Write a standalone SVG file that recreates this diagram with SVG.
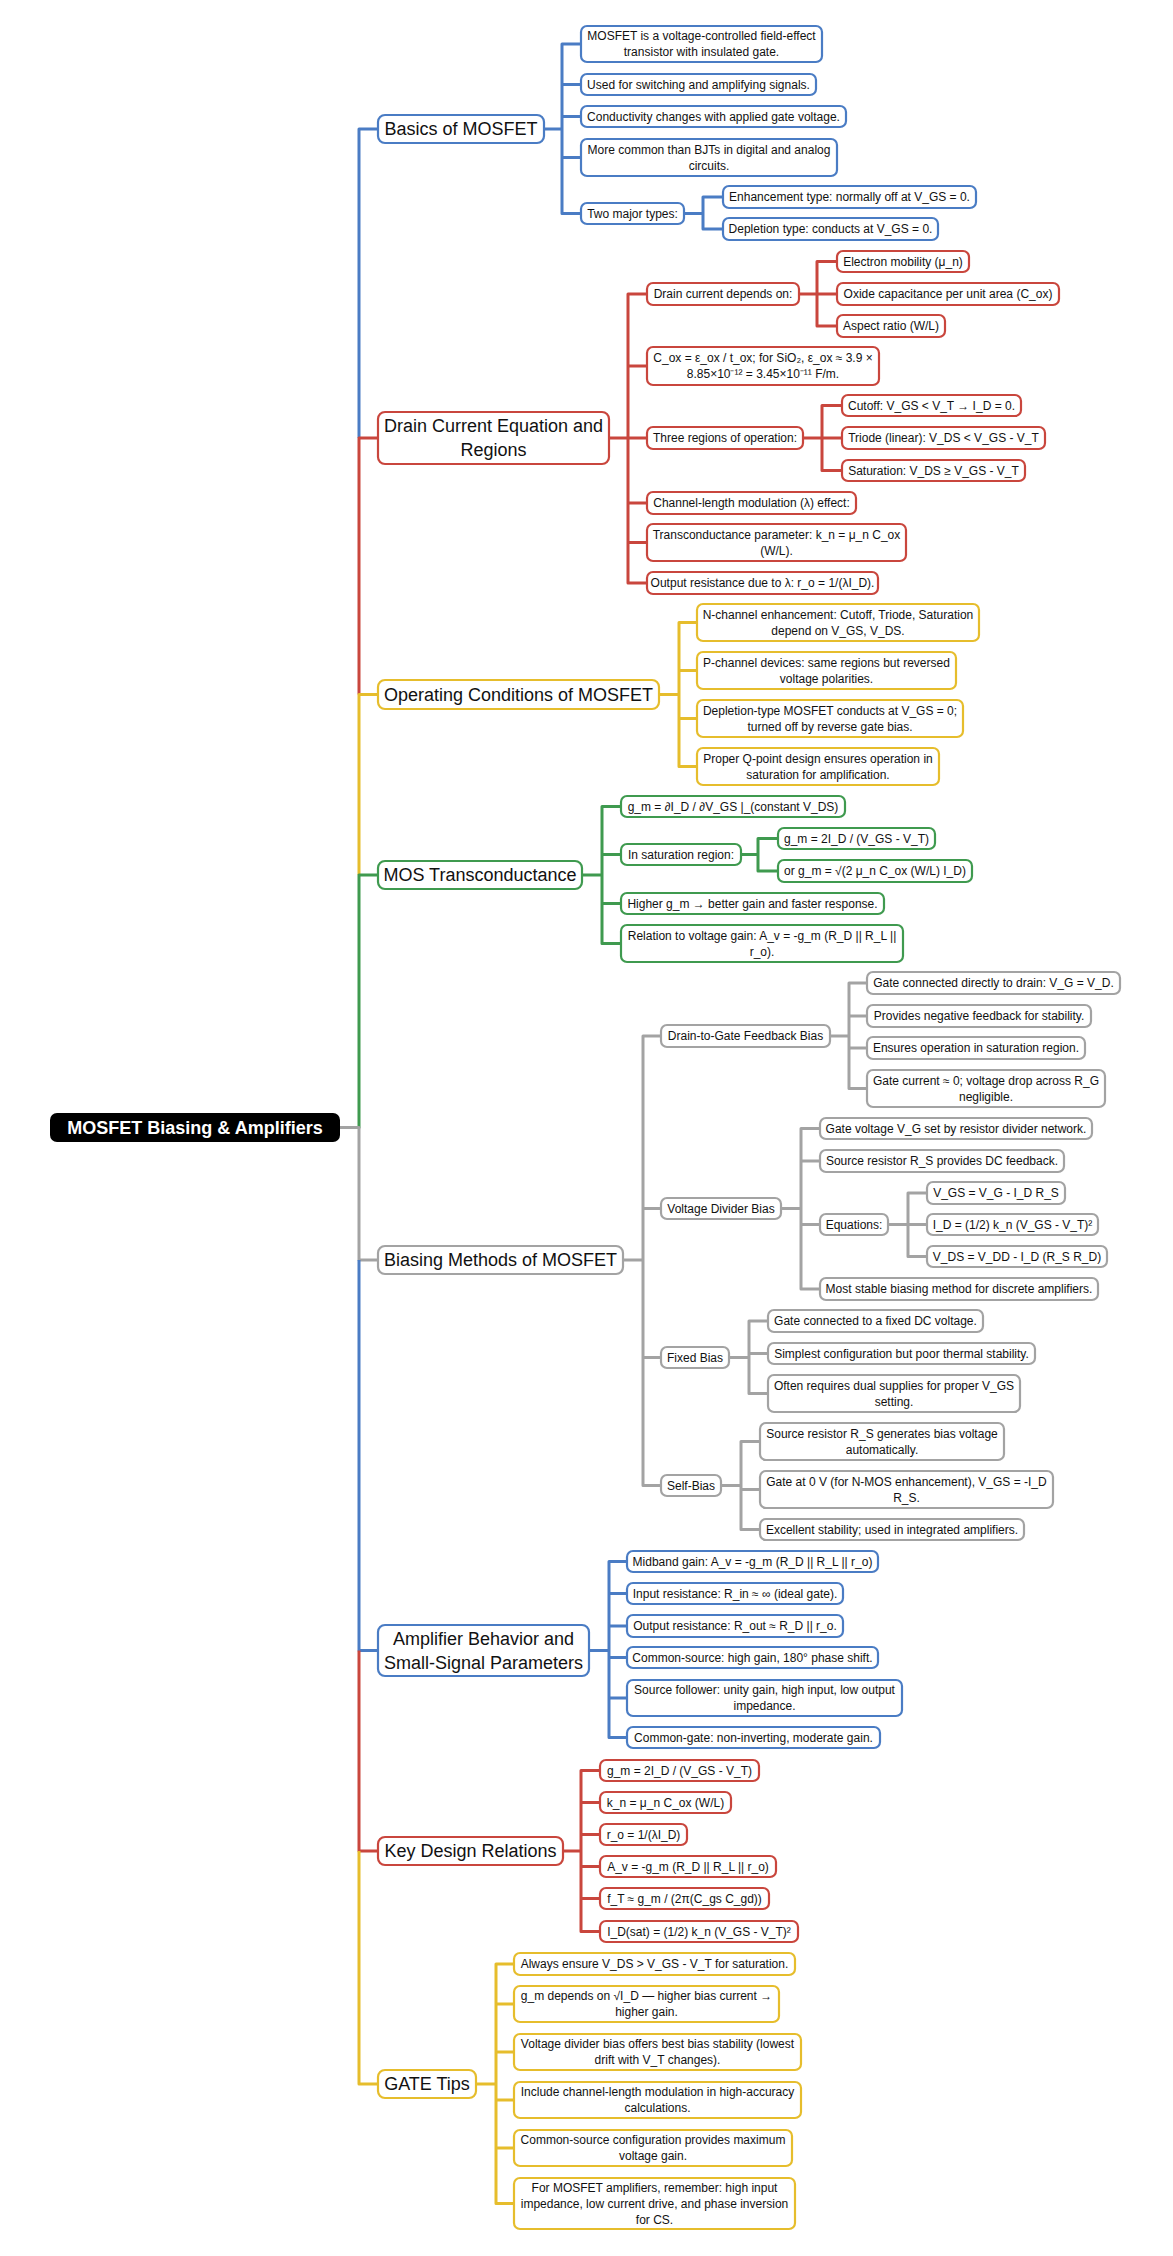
<svg xmlns="http://www.w3.org/2000/svg" width="1173" height="2256" viewBox="0 0 1173 2256">
<style>
rect.n{fill:#fff;stroke-width:2.2}
.b{stroke:#4a7cc4}.r{stroke:#c9463d}.y{stroke:#e6bd2c}.g{stroke:#3f9a4f}.k{stroke:#a3a3a3}
text{font-family:"Liberation Sans",Arial,sans-serif;font-size:12px;fill:#111;text-anchor:middle}
text.m{font-size:18px}
text.root{font-size:18px;font-weight:bold;fill:#fff}
#connectors path{fill:none;stroke-width:3;stroke-linejoin:round}
</style>
<rect width="1173" height="2256" fill="#fff"/>
<g id="connectors">
<path class="b" d="M378 129H359V438"/>
<path class="r" d="M378 438H359V694.5"/>
<path class="y" d="M378 694.5H359V875"/>
<path class="g" d="M378 875H359V1127.5H340"/>
<path class="k" d="M340 1127.5H359V1260H378"/>
<path class="b" d="M359 1260V1650.5H378"/>
<path class="r" d="M359 1650.5V1851H378"/>
<path class="y" d="M359 1851V2084H378"/>
<path class="b" d="M544 129H562V44H581M562 129V84.5H581M562 129V116.5H581M562 129V157.5H581M562 129V213.5H581"/>
<path class="b" d="M684 213.5H703V197H723M703 213.5V229H723"/>
<path class="r" d="M609 438H628V294H647M628 438V366H647M628 438H647M628 438V503H647M628 438V542.5H647M628 438V583H647"/>
<path class="r" d="M799 294H817V261.5H837M817 294H837M817 294V326H837"/>
<path class="r" d="M803 438H822V405.5H842M822 438H842M822 438V470.5H842"/>
<path class="y" d="M659 694.5H679V622.5H697M679 694.5V670.5H697M679 694.5V718.5H697M679 694.5V766.5H697"/>
<path class="g" d="M582 875H602V806.5H621M602 875V854.5H621M602 875V903.5H621M602 875V943.5H621"/>
<path class="g" d="M741 854.5H758V838.5H778M758 854.5V871H778"/>
<path class="k" d="M623 1260H643V1036H661M643 1260V1208.5H661M643 1260V1357.5H661M643 1260V1485.5H661"/>
<path class="k" d="M830 1036H849V983H867M849 1036V1016H867M849 1036V1048H867M849 1036V1088.5H867"/>
<path class="k" d="M781 1208.5H801V1128.5H820M801 1208.5V1161H820M801 1208.5V1224.5H820M801 1208.5V1289H820"/>
<path class="k" d="M888 1224.5H908V1193H927M908 1224.5H927M908 1224.5V1256.5H927"/>
<path class="k" d="M729 1357.5H749V1321H768M749 1357.5V1353.5H768M749 1357.5V1393.5H768"/>
<path class="k" d="M721 1485.5H741V1441.5H760M741 1485.5V1489.5H760M741 1485.5V1529.5H760"/>
<path class="b" d="M589 1650.5H609V1561.5H627M609 1650.5V1593.5H627M609 1650.5V1626H627M609 1650.5V1657.5H627M609 1650.5V1698H627M609 1650.5V1737.5H627"/>
<path class="r" d="M563 1851H581V1770.5H600M581 1851V1802.5H600M581 1851V1834.5H600M581 1851V1866.5H600M581 1851V1898.5H600M581 1851V1931.5H600"/>
<path class="y" d="M476 2084H496V1964H514M496 2084V2004H514M496 2084V2052H514M496 2084V2100H514M496 2084V2148H514M496 2084V2203.5H514"/>
</g>

<g id="root"><rect x="50" y="1113" width="290" height="29" rx="7" fill="#000"/><text class="root" x="195" y="1134">MOSFET Biasing &amp; Amplifiers</text></g>

<g id="basics"><rect class="n b" x="378" y="115" width="166" height="28" rx="7"/><text class="m" x="461" y="135">Basics of MOSFET</text></g>
<g id="b1"><rect class="n b" x="581" y="26" width="241" height="36" rx="6"/><text x="701.5" y="40">MOSFET is a voltage-controlled field-effect</text><text x="701.5" y="56">transistor with insulated gate.</text></g>
<g id="b2"><rect class="n b" x="581" y="74" width="235" height="21" rx="6"/><text x="698.5" y="88.5">Used for switching and amplifying signals.</text></g>
<g id="b3"><rect class="n b" x="581" y="106" width="265" height="21" rx="6"/><text x="713.5" y="120.5">Conductivity changes with applied gate voltage.</text></g>
<g id="b4"><rect class="n b" x="581" y="139" width="256" height="37" rx="6"/><text x="709" y="153.5">More common than BJTs in digital and analog</text><text x="709" y="169.5">circuits.</text></g>
<g id="b5"><rect class="n b" x="581" y="203" width="103" height="21" rx="6"/><text x="632.5" y="217.5">Two major types:</text></g>
<g id="b5a"><rect class="n b" x="723" y="186" width="253" height="22" rx="6"/><text x="849.5" y="201">Enhancement type: normally off at V_GS = 0.</text></g>
<g id="b5b"><rect class="n b" x="723" y="218" width="215" height="22" rx="6"/><text x="830.5" y="233">Depletion type: conducts at V_GS = 0.</text></g>

<g id="drain"><rect class="n r" x="378" y="412" width="231" height="52" rx="7"/><text class="m" x="493.5" y="432">Drain Current Equation and</text><text class="m" x="493.5" y="456">Regions</text></g>
<g id="d1"><rect class="n r" x="647" y="283" width="152" height="22" rx="6"/><text x="723" y="298">Drain current depends on:</text></g>
<g id="d1a"><rect class="n r" x="837" y="251" width="132" height="21" rx="6"/><text x="903" y="265.5">Electron mobility (μ_n)</text></g>
<g id="d1b"><rect class="n r" x="837" y="283" width="222" height="22" rx="6"/><text x="948" y="298">Oxide capacitance per unit area (C_ox)</text></g>
<g id="d1c"><rect class="n r" x="837" y="315" width="108" height="22" rx="6"/><text x="891" y="330">Aspect ratio (W/L)</text></g>
<g id="d2"><rect class="n r" x="647" y="347" width="232" height="38" rx="6"/><text x="763" y="362">C_ox = ε_ox / t_ox; for SiO₂, ε_ox ≈ 3.9 ×</text><text x="763" y="378">8.85×10⁻¹² = 3.45×10⁻¹¹ F/m.</text></g>
<g id="d3"><rect class="n r" x="647" y="427" width="156" height="22" rx="6"/><text x="725" y="442">Three regions of operation:</text></g>
<g id="d3a"><rect class="n r" x="842" y="395" width="179" height="21" rx="6"/><text x="931.5" y="409.5">Cutoff: V_GS &lt; V_T → I_D = 0.</text></g>
<g id="d3b"><rect class="n r" x="842" y="427" width="203" height="22" rx="6"/><text x="943.5" y="442">Triode (linear): V_DS &lt; V_GS - V_T</text></g>
<g id="d3c"><rect class="n r" x="842" y="460" width="183" height="21" rx="6"/><text x="933.5" y="474.5">Saturation: V_DS ≥ V_GS - V_T</text></g>
<g id="d4"><rect class="n r" x="647" y="492" width="209" height="22" rx="6"/><text x="751.5" y="507">Channel-length modulation (λ) effect:</text></g>
<g id="d5"><rect class="n r" x="647" y="524" width="259" height="37" rx="6"/><text x="776.5" y="538.5">Transconductance parameter: k_n = μ_n C_ox</text><text x="776.5" y="554.5">(W/L).</text></g>
<g id="d6"><rect class="n r" x="647" y="572" width="231" height="22" rx="6"/><text x="762.5" y="587">Output resistance due to λ: r_o = 1/(λI_D).</text></g>

<g id="oper"><rect class="n y" x="378" y="680" width="281" height="29" rx="7"/><text class="m" x="518.5" y="701">Operating Conditions of MOSFET</text></g>
<g id="o1"><rect class="n y" x="697" y="604" width="282" height="37" rx="6"/><text x="838" y="618.5">N-channel enhancement: Cutoff, Triode, Saturation</text><text x="838" y="634.5">depend on V_GS, V_DS.</text></g>
<g id="o2"><rect class="n y" x="697" y="652" width="259" height="37" rx="6"/><text x="826.5" y="666.5">P-channel devices: same regions but reversed</text><text x="826.5" y="682.5">voltage polarities.</text></g>
<g id="o3"><rect class="n y" x="697" y="700" width="266" height="37" rx="6"/><text x="830" y="714.5">Depletion-type MOSFET conducts at V_GS = 0;</text><text x="830" y="730.5">turned off by reverse gate bias.</text></g>
<g id="o4"><rect class="n y" x="697" y="748" width="242" height="37" rx="6"/><text x="818" y="762.5">Proper Q-point design ensures operation in</text><text x="818" y="778.5">saturation for amplification.</text></g>

<g id="mos"><rect class="n g" x="378" y="861" width="204" height="28" rx="7"/><text class="m" x="480" y="881">MOS Transconductance</text></g>
<g id="m1"><rect class="n g" x="621" y="796" width="224" height="21" rx="6"/><text x="733" y="810.5">g_m = ∂I_D / ∂V_GS |_(constant V_DS)</text></g>
<g id="m2"><rect class="n g" x="621" y="844" width="120" height="21" rx="6"/><text x="681" y="858.5">In saturation region:</text></g>
<g id="m2a"><rect class="n g" x="778" y="828" width="157" height="21" rx="6"/><text x="856.5" y="842.5">g_m = 2I_D / (V_GS - V_T)</text></g>
<g id="m2b"><rect class="n g" x="778" y="860" width="194" height="22" rx="6"/><text x="875" y="875">or g_m = √(2 μ_n C_ox (W/L) I_D)</text></g>
<g id="m3"><rect class="n g" x="621" y="893" width="263" height="21" rx="6"/><text x="752.5" y="907.5">Higher g_m → better gain and faster response.</text></g>
<g id="m4"><rect class="n g" x="621" y="925" width="282" height="37" rx="6"/><text x="762" y="939.5">Relation to voltage gain: A_v = -g_m (R_D || R_L ||</text><text x="762" y="955.5">r_o).</text></g>

<g id="bias"><rect class="n k" x="378" y="1246" width="245" height="28" rx="7"/><text class="m" x="500.5" y="1266">Biasing Methods of MOSFET</text></g>
<g id="s1"><rect class="n k" x="661" y="1025" width="169" height="22" rx="6"/><text x="745.5" y="1040">Drain-to-Gate Feedback Bias</text></g>
<g id="s1a"><rect class="n k" x="867" y="972" width="253" height="22" rx="6"/><text x="993.5" y="987">Gate connected directly to drain: V_G = V_D.</text></g>
<g id="s1b"><rect class="n k" x="867" y="1005" width="224" height="22" rx="6"/><text x="979" y="1020">Provides negative feedback for stability.</text></g>
<g id="s1c"><rect class="n k" x="867" y="1037" width="218" height="22" rx="6"/><text x="976" y="1052">Ensures operation in saturation region.</text></g>
<g id="s1d"><rect class="n k" x="867" y="1070" width="238" height="37" rx="6"/><text x="986" y="1084.5">Gate current ≈ 0; voltage drop across R_G</text><text x="986" y="1100.5">negligible.</text></g>
<g id="s2"><rect class="n k" x="661" y="1198" width="120" height="21" rx="6"/><text x="721" y="1212.5">Voltage Divider Bias</text></g>
<g id="s2a"><rect class="n k" x="820" y="1118" width="272" height="21" rx="6"/><text x="956" y="1132.5">Gate voltage V_G set by resistor divider network.</text></g>
<g id="s2b"><rect class="n k" x="820" y="1150" width="244" height="22" rx="6"/><text x="942" y="1165">Source resistor R_S provides DC feedback.</text></g>
<g id="s2c"><rect class="n k" x="820" y="1214" width="68" height="21" rx="6"/><text x="854" y="1228.5">Equations:</text></g>
<g id="s2c1"><rect class="n k" x="927" y="1182" width="138" height="22" rx="6"/><text x="996" y="1197">V_GS = V_G - I_D R_S</text></g>
<g id="s2c2"><rect class="n k" x="927" y="1214" width="171" height="21" rx="6"/><text x="1012.5" y="1228.5">I_D = (1/2) k_n (V_GS - V_T)²</text></g>
<g id="s2c3"><rect class="n k" x="927" y="1246" width="180" height="21" rx="6"/><text x="1017" y="1260.5">V_DS = V_DD - I_D (R_S R_D)</text></g>
<g id="s2d"><rect class="n k" x="820" y="1278" width="278" height="22" rx="6"/><text x="959" y="1293">Most stable biasing method for discrete amplifiers.</text></g>
<g id="s3"><rect class="n k" x="661" y="1347" width="68" height="21" rx="6"/><text x="695" y="1361.5">Fixed Bias</text></g>
<g id="s3a"><rect class="n k" x="768" y="1310" width="215" height="22" rx="6"/><text x="875.5" y="1325">Gate connected to a fixed DC voltage.</text></g>
<g id="s3b"><rect class="n k" x="768" y="1343" width="267" height="21" rx="6"/><text x="901.5" y="1357.5">Simplest configuration but poor thermal stability.</text></g>
<g id="s3c"><rect class="n k" x="768" y="1375" width="252" height="37" rx="6"/><text x="894" y="1389.5">Often requires dual supplies for proper V_GS</text><text x="894" y="1405.5">setting.</text></g>
<g id="s4"><rect class="n k" x="661" y="1475" width="60" height="21" rx="6"/><text x="691" y="1489.5">Self-Bias</text></g>
<g id="s4a"><rect class="n k" x="760" y="1423" width="244" height="37" rx="6"/><text x="882" y="1437.5">Source resistor R_S generates bias voltage</text><text x="882" y="1453.5">automatically.</text></g>
<g id="s4b"><rect class="n k" x="760" y="1471" width="293" height="37" rx="6"/><text x="906.5" y="1485.5">Gate at 0 V (for N-MOS enhancement), V_GS = -I_D</text><text x="906.5" y="1501.5">R_S.</text></g>
<g id="s4c"><rect class="n k" x="760" y="1519" width="264" height="21" rx="6"/><text x="892" y="1533.5">Excellent stability; used in integrated amplifiers.</text></g>

<g id="amp"><rect class="n b" x="378" y="1625" width="211" height="51" rx="7"/><text class="m" x="483.5" y="1644.5">Amplifier Behavior and</text><text class="m" x="483.5" y="1668.5">Small-Signal Parameters</text></g>
<g id="a1"><rect class="n b" x="627" y="1551" width="251" height="21" rx="6"/><text x="752.5" y="1565.5">Midband gain: A_v = -g_m (R_D || R_L || r_o)</text></g>
<g id="a2"><rect class="n b" x="627" y="1583" width="216" height="21" rx="6"/><text x="735" y="1597.5">Input resistance: R_in ≈ ∞ (ideal gate).</text></g>
<g id="a3"><rect class="n b" x="627" y="1615" width="216" height="22" rx="6"/><text x="735" y="1630">Output resistance: R_out ≈ R_D || r_o.</text></g>
<g id="a4"><rect class="n b" x="627" y="1647" width="251" height="21" rx="6"/><text x="752.5" y="1661.5">Common-source: high gain, 180° phase shift.</text></g>
<g id="a5"><rect class="n b" x="627" y="1680" width="275" height="36" rx="6"/><text x="764.5" y="1694">Source follower: unity gain, high input, low output</text><text x="764.5" y="1710">impedance.</text></g>
<g id="a6"><rect class="n b" x="627" y="1727" width="253" height="21" rx="6"/><text x="753.5" y="1741.5">Common-gate: non-inverting, moderate gain.</text></g>

<g id="key"><rect class="n r" x="378" y="1837" width="185" height="28" rx="7"/><text class="m" x="470.5" y="1857">Key Design Relations</text></g>
<g id="k1"><rect class="n r" x="600" y="1760" width="159" height="21" rx="6"/><text x="679.5" y="1774.5">g_m = 2I_D / (V_GS - V_T)</text></g>
<g id="k2"><rect class="n r" x="600" y="1792" width="131" height="21" rx="6"/><text x="665.5" y="1806.5">k_n = μ_n C_ox (W/L)</text></g>
<g id="k3"><rect class="n r" x="600" y="1824" width="87" height="21" rx="6"/><text x="643.5" y="1838.5">r_o = 1/(λI_D)</text></g>
<g id="k4"><rect class="n r" x="600" y="1856" width="176" height="21" rx="6"/><text x="688" y="1870.5">A_v = -g_m (R_D || R_L || r_o)</text></g>
<g id="k5"><rect class="n r" x="600" y="1888" width="169" height="21" rx="6"/><text x="684.5" y="1902.5">f_T ≈ g_m / (2π(C_gs C_gd))</text></g>
<g id="k6"><rect class="n r" x="600" y="1921" width="198" height="21" rx="6"/><text x="699" y="1935.5">I_D(sat) = (1/2) k_n (V_GS - V_T)²</text></g>

<g id="gate"><rect class="n y" x="378" y="2070" width="98" height="28" rx="7"/><text class="m" x="427" y="2090">GATE Tips</text></g>
<g id="t1"><rect class="n y" x="514" y="1953" width="281" height="22" rx="6"/><text x="654.5" y="1968">Always ensure V_DS &gt; V_GS - V_T for saturation.</text></g>
<g id="t2"><rect class="n y" x="514" y="1986" width="265" height="36" rx="6"/><text x="646.5" y="2000">g_m depends on √I_D — higher bias current →</text><text x="646.5" y="2016">higher gain.</text></g>
<g id="t3"><rect class="n y" x="514" y="2034" width="287" height="36" rx="6"/><text x="657.5" y="2048">Voltage divider bias offers best bias stability (lowest</text><text x="657.5" y="2064">drift with V_T changes).</text></g>
<g id="t4"><rect class="n y" x="514" y="2082" width="287" height="36" rx="6"/><text x="657.5" y="2096">Include channel-length modulation in high-accuracy</text><text x="657.5" y="2112">calculations.</text></g>
<g id="t5"><rect class="n y" x="514" y="2130" width="278" height="36" rx="6"/><text x="653" y="2144">Common-source configuration provides maximum</text><text x="653" y="2160">voltage gain.</text></g>
<g id="t6"><rect class="n y" x="514" y="2178" width="281" height="51" rx="6"/><text x="654.5" y="2191.5">For MOSFET amplifiers, remember: high input</text><text x="654.5" y="2207.5">impedance, low current drive, and phase inversion</text><text x="654.5" y="2223.5">for CS.</text></g>
</svg>
